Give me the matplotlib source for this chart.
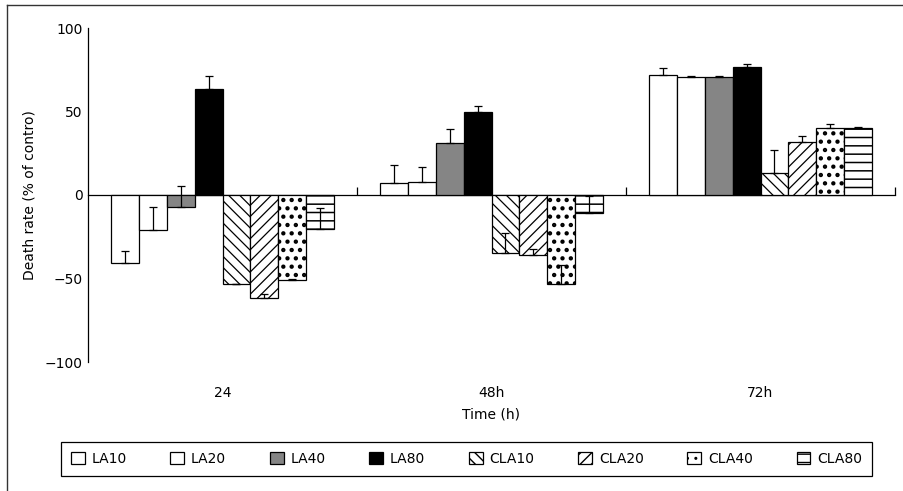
import matplotlib
matplotlib.use("Agg")
import matplotlib.pyplot as plt
import numpy as np
from matplotlib.lines import Line2D

times = ["24", "48h", "72h"]
series = ["LA10", "LA20", "LA40", "LA80", "CLA10", "CLA20", "CLA40", "CLA80"]

LA10 = [-41, 7, 72]
LA20 = [-21, 8, 70.5]
LA40 = [-7, 31, 70.5]
LA80 = [63.5, 49.5, 76.5]
CLA10 = [-53, -34.5, 13]
CLA20 = [-61.5, -36, 32]
CLA40 = [-51, -53, 40]
CLA80 = [-20.5, -10.5, 40]

LA10_err = [7.5, 11, 4]
LA20_err = [14, 8.5, 1]
LA40_err = [12.5, 8.5, 1]
LA80_err = [8, 4, 2]
CLA10_err = [0, 11.5, 14]
CLA20_err = [2, 3.5, 3.5]
CLA40_err = [1, 11, 2.7]
CLA80_err = [13, 10, 1]

values = [LA10, LA20, LA40, LA80, CLA10, CLA20, CLA40, CLA80]
errors = [LA10_err, LA20_err, LA40_err, LA80_err, CLA10_err, CLA20_err, CLA40_err, CLA80_err]

faces = ["white", "white", "#858585", "black", "white", "white", "white", "white"]
hatches = [None, None, None, None, "\\\\\\", "///", "..", "--"]
hatch_lw = [0.9, 0.9, 0.9, 0.9, 0.9, 0.9, 1.9, 1.1]

plt.rcParams["font.family"] = ["DejaVu Sans"]

fig = plt.figure(figsize=(9.04, 4.91), dpi=100)
ax = fig.add_axes([88/904, 1-362/491, (895-88)/904, (362-28)/491])

n = len(series)
width = 0.104
x = np.arange(len(times)) + 0.5
for i, (name, vals, errs) in enumerate(zip(series, values, errors)):
    pos = x + (i - (n - 1) / 2) * width
    with plt.rc_context({"hatch.linewidth": hatch_lw[i]}):
        ax.bar(pos, vals, width, color=faces[i], edgecolor="black", linewidth=0.9,
               hatch=hatches[i], label=name, zorder=2)
    ax.errorbar(pos, vals, yerr=[np.zeros(len(vals)), errs], fmt="none",
                ecolor="black", elinewidth=0.9, capsize=2.6, capthick=0.9, zorder=3)

ax.set_xlim(0, 3)
ax.set_ylim(-100, 100)
ax.set_yticks([-100, -50, 0, 50, 100])
ax.tick_params(axis="y", length=0, pad=4, labelsize=10)
ax.set_xticks(x, times)
ax.tick_params(axis="x", length=0, pad=17, labelsize=10)
for s in ["top", "right", "bottom"]:
    ax.spines[s].set_visible(False)
ax.spines["left"].set_linewidth(0.9)
ax.set_ylabel("Death rate (% of contro)", fontsize=10, labelpad=6)
ax.set_xlabel("Time (h)", fontsize=10, labelpad=6)

sec = ax.secondary_xaxis(0.5)
sec.set_xticks([1, 2, 3], ["", "", ""])
sec.tick_params(axis="x", direction="out", length=5.5, width=0.9)
sec.spines["bottom"].set_linewidth(0.9)
sec.spines["top"].set_linewidth(0.9)

leg = ax.legend(loc="center", ncol=8, bbox_to_anchor=(54/904, 1-479/491, 825/904, 40/491),
                bbox_transform=fig.transFigure, mode="expand", fontsize=10,
                handlelength=1.0, handleheight=1.0, handletextpad=0.5,
                fancybox=False, framealpha=1, edgecolor="black", borderpad=0.7)
leg.get_frame().set_linewidth(0.9)

fig.add_artist(Line2D([7/904, 1], [1-5/491, 1-5/491], transform=fig.transFigure,
                      color="#333333", linewidth=1))
fig.add_artist(Line2D([7/904, 7/904], [0, 1-5/491], transform=fig.transFigure,
                      color="#333333", linewidth=1))

fig.savefig("out.png", dpi=100)
